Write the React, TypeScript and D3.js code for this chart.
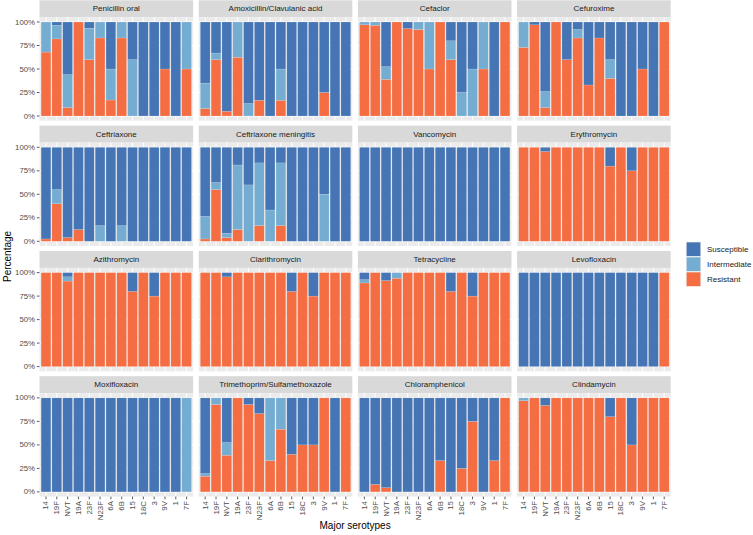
import React from "react";
import * as d3 from "d3";

const serotypes = ["14", "19F", "NVT", "19A", "23F", "N23F", "6A", "6B", "15", "18C", "3", "9V", "1", "7F"];
const antibiotics = [
  "Penicillin oral", "Amoxicillin/Clavulanic acid", "Cefaclor", "Cefuroxime",
  "Ceftriaxone", "Ceftriaxone meningitis", "Vancomycin", "Erythromycin",
  "Azithromycin", "Clarithromycin", "Tetracycline", "Levofloxacin",
  "Moxifloxacin", "Trimethoprim/Sulfamethoxazole", "Chloramphenicol", "Clindamycin",
];
const categories = ["Susceptible", "Intermediate", "Resistant"];
const colors = ["#4575b4", "#74add1", "#f46d43"];
const yTicks = [0, 0.25, 0.5, 0.75, 1];

// Resistant / Intermediate / Susceptible proportions per serotype, per antibiotic
const penicillinR = [0.68, 0.82, 0.09, 1, 0.6, 0.83, 0.17, 0.83, 0, 0, 0, 0.5, 0, 0.5];
const penicillinI = [0.32, 0.145, 0.35, 0, 0.333, 0.17, 0.33, 0.17, 0.6, 0, 0, 0, 0, 0.5];
const penicillinS = [0, 0.035, 0.56, 0, 0.067, 0, 0.5, 0, 0.4, 1, 1, 0.5, 1, 0];

const amoxR = [0.08, 0.6, 0.05, 0.625, 0, 0.167, 0, 0.167, 0, 0, 0, 0.25, 0, 0];
const amoxI = [0.27, 0.07, 0, 0.375, 0.133, 0, 0, 0.333, 0, 0, 0, 0, 0, 0];
const amoxS = [0.65, 0.33, 0.95, 0, 0.867, 0.833, 1, 0.5, 1, 1, 1, 0.75, 1, 1];

const cefaclorR = [0.97, 0.965, 0.39, 1, 0.93, 0.92, 0.5, 1, 0.6, 0, 0, 0.5, 0, 1];
const cefaclorI = [0.03, 0.035, 0.135, 0, 0, 0.08, 0.5, 0, 0.2, 0.25, 0.5, 0.5, 0, 0];
const cefaclorS = [0, 0, 0.475, 0, 0.07, 0, 0, 0, 0.2, 0.75, 0.5, 0, 1, 0];

const cefuroximeR = [0.73, 0.97, 0.09, 1, 0.6, 0.83, 0.33, 0.83, 0.4, 0, 0, 0.5, 0, 1];
const cefuroximeI = [0.27, 0, 0.17, 0, 0, 0.09, 0, 0, 0.2, 0, 0, 0, 0, 0];
const cefuroximeS = [0, 0.03, 0.74, 0, 0.4, 0.08, 0.67, 0.17, 0.4, 1, 1, 0.5, 1, 0];

const ceftriaxoneR = [0.025, 0.4, 0.04, 0.125, 0, 0, 0, 0, 0, 0, 0, 0, 0, 0];
const ceftriaxoneI = [0, 0.15, 0, 0, 0, 0.167, 0, 0.167, 0, 0, 0, 0, 0, 0];
const ceftriaxoneS = [0.975, 0.45, 0.96, 0.875, 1, 0.833, 1, 0.833, 1, 1, 1, 1, 1, 1];

const ceftriaxoneMenR = [0.025, 0.55, 0.04, 0.125, 0, 0.167, 0, 0.167, 0, 0, 0, 0, 0, 0];
const ceftriaxoneMenI = [0.24, 0.075, 0.045, 0.687, 0.6, 0.667, 0.333, 0.667, 0, 0, 0, 0.5, 0, 0];
const ceftriaxoneMenS = [0.735, 0.375, 0.915, 0.188, 0.4, 0.166, 0.667, 0.166, 1, 1, 1, 0.5, 1, 1];

const vancomycinR = [0, 0, 0, 0, 0, 0, 0, 0, 0, 0, 0, 0, 0, 0];
const vancomycinI = [0, 0, 0, 0, 0, 0, 0, 0, 0, 0, 0, 0, 0, 0];
const vancomycinS = [1, 1, 1, 1, 1, 1, 1, 1, 1, 1, 1, 1, 1, 1];

const erythromycinR = [1, 1, 0.955, 1, 1, 1, 1, 1, 0.8, 1, 0.75, 1, 1, 1];
const erythromycinI = [0, 0, 0, 0, 0, 0, 0, 0, 0, 0, 0, 0, 0, 0];
const erythromycinS = [0, 0, 0.045, 0, 0, 0, 0, 0, 0.2, 0, 0.25, 0, 0, 0];

const azithromycinR = [1, 1, 0.91, 1, 1, 1, 1, 1, 0.8, 1, 0.75, 1, 1, 1];
const azithromycinI = [0, 0, 0.045, 0, 0, 0, 0, 0, 0, 0, 0, 0, 0, 0];
const azithromycinS = [0, 0, 0.045, 0, 0, 0, 0, 0, 0.2, 0, 0.25, 0, 0, 0];

const clarithromycinR = [1, 1, 0.955, 1, 1, 1, 1, 1, 0.8, 1, 0.75, 1, 1, 1];
const clarithromycinI = [0, 0, 0, 0, 0, 0, 0, 0, 0, 0, 0, 0, 0, 0];
const clarithromycinS = [0, 0, 0.045, 0, 0, 0, 0, 0, 0.2, 0, 0.25, 0, 0, 0];

const tetracyclineR = [0.89, 1, 0.915, 0.94, 1, 1, 1, 1, 0.8, 1, 0.75, 1, 1, 1];
const tetracyclineI = [0.035, 0, 0, 0.06, 0, 0, 0, 0, 0, 0, 0, 0, 0, 0];
const tetracyclineS = [0.075, 0, 0.085, 0, 0, 0, 0, 0, 0.2, 0, 0.25, 0, 0, 0];

const levofloxacinR = [0, 0, 0, 0, 0, 0, 0, 0, 0, 0, 0, 0, 0, 1];
const levofloxacinI = [0, 0, 0, 0, 0, 0, 0, 0, 0, 0, 0, 0, 0, 0];
const levofloxacinS = [1, 1, 1, 1, 1, 1, 1, 1, 1, 1, 1, 1, 1, 0];

const moxifloxacinR = [0, 0, 0, 0, 0, 0, 0, 0, 0, 0, 0, 0, 0, 0];
const moxifloxacinI = [0, 0, 0, 0, 0, 0, 0, 0, 0, 0, 0, 0, 0, 1];
const moxifloxacinS = [1, 1, 1, 1, 1, 1, 1, 1, 1, 1, 1, 1, 1, 0];

const tmpSmxR = [0.167, 0.93, 0.39, 1, 0.93, 0.833, 0.333, 0.667, 0.4, 0.5, 0.5, 1, 0, 1];
const tmpSmxI = [0.028, 0.07, 0.135, 0, 0, 0, 0.667, 0.333, 0, 0, 0, 0, 0, 0];
const tmpSmxS = [0.805, 0, 0.475, 0, 0.07, 0.167, 0, 0, 0.6, 0.5, 0.5, 0, 1, 0];

const chloramphenicolR = [0, 0.08, 0.045, 0, 0, 0, 0, 0.333, 0, 0.25, 0.75, 0, 0.333, 1];
const chloramphenicolI = [0, 0, 0, 0, 0, 0, 0, 0, 0, 0, 0, 0, 0, 0];
const chloramphenicolS = [1, 0.92, 0.955, 1, 1, 1, 1, 0.667, 1, 0.75, 0.25, 1, 0.667, 0];

const clindamycinR = [0.97, 1, 0.92, 1, 1, 1, 1, 1, 0.8, 1, 0.5, 1, 1, 1];
const clindamycinI = [0.03, 0, 0, 0, 0, 0, 0, 0, 0, 0, 0, 0, 0, 0];
const clindamycinS = [0, 0, 0.08, 0, 0, 0, 0, 0, 0.2, 0, 0.5, 0, 0, 0];

const seriesByAntibiotic = [
  [penicillinS, penicillinI, penicillinR],
  [amoxS, amoxI, amoxR],
  [cefaclorS, cefaclorI, cefaclorR],
  [cefuroximeS, cefuroximeI, cefuroximeR],
  [ceftriaxoneS, ceftriaxoneI, ceftriaxoneR],
  [ceftriaxoneMenS, ceftriaxoneMenI, ceftriaxoneMenR],
  [vancomycinS, vancomycinI, vancomycinR],
  [erythromycinS, erythromycinI, erythromycinR],
  [azithromycinS, azithromycinI, azithromycinR],
  [clarithromycinS, clarithromycinI, clarithromycinR],
  [tetracyclineS, tetracyclineI, tetracyclineR],
  [levofloxacinS, levofloxacinI, levofloxacinR],
  [moxifloxacinS, moxifloxacinI, moxifloxacinR],
  [tmpSmxS, tmpSmxI, tmpSmxR],
  [chloramphenicolS, chloramphenicolI, chloramphenicolR],
  [clindamycinS, clindamycinI, clindamycinR],
];

const W = 753;
const H = 535;
const FONT = "'Liberation Sans', Arial, Helvetica, sans-serif";
const panelW = 153.6;
const panelGap = 5.6;
const panelLeft0 = 39.5;
const panelTop0 = 17.3;
const rowPitch = 125.3;
const panelH = 103.4;
const stripH = 17;

function Panel({ idx }: { idx: number }) {
  const col = idx % 4;
  const row = Math.floor(idx / 4);
  const left = panelLeft0 + col * (panelW + panelGap);
  const top = panelTop0 + row * rowPitch;
  const bottom = top + panelH;
  const x = d3.scaleLinear().domain([0.4, serotypes.length + 0.6]).range([left, left + panelW]);
  const y = d3.scaleLinear().domain([-0.05, 1.05]).range([bottom, top]);
  const series = seriesByAntibiotic[idx];

  // stack: Resistant at bottom, then Intermediate, then Susceptible on top
  const rows = serotypes.map((s, i) => ({ s, S: series[0][i], I: series[1][i], R: series[2][i] }));
  const stack = d3.stack<any>().keys(["R", "I", "S"])(rows);
  const colorOf: Record<string, string> = { S: colors[0], I: colors[1], R: colors[2] };
  const minorTicks = [0.125, 0.375, 0.625, 0.875];
  const isBottom = row === 3;
  const isLeft = col === 0;

  return (
    <g>
      <rect x={left} y={top - stripH} width={panelW} height={stripH} fill="#D9D9D9" />
      <text x={left + panelW / 2} y={top - stripH / 2} textAnchor="middle" dominantBaseline="central"
        fontSize={8} fill="#1A1A1A" fontFamily={FONT}>{antibiotics[idx]}</text>
      <rect x={left} y={top} width={panelW} height={panelH} fill="#EBEBEB" />
      {minorTicks.map((t) => (
        <line key={"m" + t} x1={left} x2={left + panelW} y1={y(t)} y2={y(t)} stroke="#fff" strokeWidth={0.5} />
      ))}
      {yTicks.map((t) => (
        <line key={"g" + t} x1={left} x2={left + panelW} y1={y(t)} y2={y(t)} stroke="#fff" strokeWidth={1} />
      ))}
      {serotypes.map((s, i) => (
        <line key={"v" + s} x1={x(i + 1)} x2={x(i + 1)} y1={top} y2={bottom} stroke="#fff" strokeWidth={1} />
      ))}
      {stack.map((layer) =>
        layer.map((d, i) => {
          const h = y(d[0]) - y(d[1]);
          if (h <= 0.01) return null;
          return (
            <rect key={layer.key + i} x={x(i + 1 - 0.45)} width={x(i + 1 + 0.45) - x(i + 1 - 0.45)}
              y={y(d[1])} height={h} fill={colorOf[layer.key as string]} stroke="#fff" strokeOpacity={0.35}
              strokeWidth={0.4} />
          );
        })
      )}
      {isLeft && yTicks.map((t) => (
        <g key={"yt" + t}>
          <line x1={left - 2.7} x2={left} y1={y(t)} y2={y(t)} stroke="#333" strokeWidth={0.8} />
          <text x={left - 4.5} y={y(t)} textAnchor="end" dominantBaseline="central" fontSize={7.8}
            fill="#4D4D4D" fontFamily={FONT}>{d3.format(".0%")(t)}</text>
        </g>
      ))}
      {isBottom && serotypes.map((s, i) => (
        <g key={"xt" + s}>
          <line x1={x(i + 1)} x2={x(i + 1)} y1={bottom} y2={bottom + 2.7} stroke="#333" strokeWidth={0.8} />
          <text transform={`translate(${x(i + 1)},${bottom + 4.5}) rotate(-90)`} textAnchor="end"
            dominantBaseline="central" fontSize={7.8} fill="#4D4D4D" fontFamily={FONT}>{s}</text>
        </g>
      ))}
    </g>
  );
}

export default function App() {
  const legendX = 686.5;
  const legendY = 241.7;
  const keyH = 15;
  const centerX = panelLeft0 + (4 * panelW + 3 * panelGap) / 2;
  const centerY = (panelTop0 - stripH + panelTop0 + 3 * rowPitch + panelH) / 2 + 8;
  return (
    <svg width={W} height={H} style={{ position: "absolute", left: 0, top: 0, background: "#fff" }}>
      <rect x={0} y={0} width={W} height={H} fill="#fff" />
      {antibiotics.map((a, i) => <Panel key={a} idx={i} />)}
      <text x={centerX} y={529} textAnchor="middle" fontSize={10} fill="#000" fontFamily={FONT}>Major serotypes</text>
      <text transform={`translate(11,${centerY}) rotate(-90)`} textAnchor="middle" fontSize={10} fill="#000"
        fontFamily={FONT}>Percentage</text>
      {categories.map((c, i) => (
        <g key={c}>
          <rect x={legendX - 0.5} y={legendY + i * keyH} width={15} height={keyH} fill="#F2F2F2" />
          <rect x={legendX} y={legendY + i * keyH + 0.5} width={14} height={keyH - 1} fill={colors[i]}
            stroke="#fff" strokeOpacity={0.35} strokeWidth={0.4} />
          <text x={707} y={legendY + i * keyH + keyH / 2} dominantBaseline="central" fontSize={8}
            fill="#1A1A1A" fontFamily={FONT}>{c}</text>
        </g>
      ))}
    </svg>
  );
}
